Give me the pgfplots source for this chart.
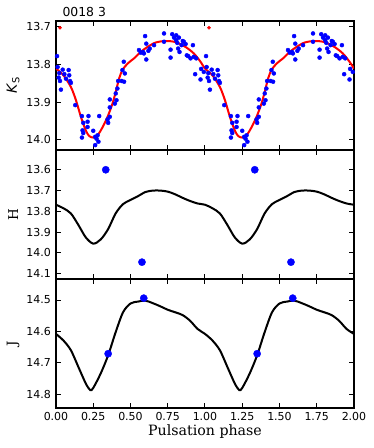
\documentclass[border=0pt]{standalone}
\usepackage{pgfplots}
\pgfplotsset{compat=1.18}
\usepackage{pgfplotstable}
\usepackage{fontspec}
\setmainfont{DejaVu Sans}
\newfontfamily\serif{DejaVu Serif}

% Ks photometry, folded phase, two cycles
\pgfplotstableread{
p m
0.007 13.778
0.011 13.807
0.022 13.823
0.018 13.835
0.027 13.844
0.033 13.867
0.045 13.814
0.056 13.826
0.067 13.838
0.085 13.815
0.089 13.829
0.094 13.844
0.100 13.849
0.129 13.908
0.174 13.937
0.178 13.975
0.183 13.982
0.174 13.994
0.183 13.955
0.212 13.952
0.218 13.937
0.212 13.966
0.250 13.976
0.263 13.992
0.272 13.997
0.279 13.988
0.263 14.014
0.285 14.005
0.290 13.937
0.346 13.946
0.350 13.955
0.361 13.939
0.361 13.914
0.361 13.893
0.395 13.904
0.401 13.877
0.406 13.895
0.412 13.864
0.417 13.844
0.441 13.844
0.446 13.815
0.457 13.846
0.455 13.793
0.462 13.824
0.557 13.762
0.569 13.769
0.584 13.767
0.590 13.771
0.598 13.725
0.606 13.745
0.606 13.787
0.620 13.764
0.629 13.758
0.658 13.749
0.725 13.718
0.725 13.740
0.769 13.761
0.769 13.782
0.780 13.720
0.792 13.729
0.807 13.723
0.807 13.736
0.814 13.743
0.820 13.758
0.825 13.729
0.829 13.767
0.843 13.749
0.851 13.738
0.858 13.740
0.870 13.746
0.878 13.776
0.887 13.778
0.903 13.784
0.919 13.749
0.925 13.780
0.934 13.826
0.941 13.784
0.970 13.840
0.974 13.812
0.992 13.820
1.007 13.778
1.011 13.807
1.022 13.823
1.018 13.835
1.027 13.844
1.033 13.867
1.045 13.814
1.056 13.826
1.067 13.838
1.085 13.815
1.089 13.829
1.094 13.844
1.100 13.849
1.129 13.908
1.174 13.937
1.178 13.975
1.183 13.982
1.174 13.994
1.183 13.955
1.212 13.952
1.218 13.937
1.212 13.966
1.250 13.976
1.263 13.992
1.272 13.997
1.279 13.988
1.263 14.014
1.285 14.005
1.290 13.937
1.346 13.946
1.350 13.955
1.361 13.939
1.361 13.914
1.361 13.893
1.395 13.904
1.401 13.877
1.406 13.895
1.412 13.864
1.417 13.844
1.441 13.844
1.446 13.815
1.457 13.846
1.455 13.793
1.462 13.824
1.557 13.762
1.569 13.769
1.584 13.767
1.590 13.771
1.598 13.725
1.606 13.745
1.606 13.787
1.620 13.764
1.629 13.758
1.658 13.749
1.725 13.718
1.725 13.740
1.769 13.761
1.769 13.782
1.780 13.720
1.792 13.729
1.807 13.723
1.807 13.736
1.814 13.743
1.820 13.758
1.825 13.729
1.829 13.767
1.843 13.749
1.851 13.738
1.858 13.740
1.870 13.746
1.878 13.776
1.887 13.778
1.903 13.784
1.919 13.749
1.925 13.780
1.934 13.826
1.941 13.784
1.970 13.840
1.974 13.812
1.992 13.820
}\ksdata

% Ks fit
\pgfplotstableread{
p m
0.000 13.811
0.050 13.829
0.100 13.860
0.134 13.895
0.167 13.939
0.200 13.975
0.223 13.990
0.250 13.994
0.279 13.988
0.312 13.967
0.346 13.939
0.379 13.904
0.401 13.873
0.424 13.837
0.446 13.815
0.480 13.798
0.524 13.784
0.569 13.767
0.613 13.754
0.669 13.742
0.736 13.738
0.803 13.741
0.870 13.754
0.925 13.771
0.970 13.793
1.000 13.811
1.050 13.829
1.100 13.860
1.134 13.895
1.167 13.939
1.200 13.975
1.223 13.990
1.250 13.994
1.279 13.988
1.312 13.967
1.346 13.939
1.379 13.904
1.401 13.873
1.424 13.837
1.446 13.815
1.480 13.798
1.524 13.784
1.569 13.767
1.613 13.754
1.669 13.742
1.736 13.738
1.803 13.741
1.870 13.754
1.925 13.771
1.970 13.793
2.000 13.811
}\ksfit

% H template
\pgfplotstableread{
p m
0.00 13.768
0.05 13.785
0.10 13.810
0.15 13.865
0.20 13.925
0.25 13.955
0.30 13.935
0.35 13.885
0.40 13.810
0.45 13.765
0.50 13.745
0.55 13.727
0.60 13.707
0.65 13.700
0.70 13.700
0.75 13.705
0.80 13.718
0.85 13.735
0.90 13.750
0.95 13.762
1.00 13.768
1.05 13.785
1.10 13.810
1.15 13.865
1.20 13.925
1.25 13.955
1.30 13.935
1.35 13.885
1.40 13.810
1.45 13.765
1.50 13.745
1.55 13.727
1.60 13.707
1.65 13.700
1.70 13.700
1.75 13.705
1.80 13.718
1.85 13.735
1.90 13.750
1.95 13.762
2.00 13.768
}\hfit

% J template
\pgfplotstableread{
p m
0.00 14.608
0.05 14.629
0.10 14.660
0.15 14.713
0.20 14.766
0.23 14.787
0.25 14.780
0.30 14.734
0.35 14.676
0.40 14.603
0.45 14.539
0.50 14.511
0.55 14.505
0.60 14.502
0.65 14.510
0.70 14.520
0.75 14.531
0.80 14.539
0.85 14.548
0.90 14.566
0.95 14.592
1.00 14.608
1.05 14.629
1.10 14.660
1.15 14.713
1.20 14.766
1.23 14.787
1.25 14.780
1.30 14.734
1.35 14.676
1.40 14.603
1.45 14.539
1.50 14.511
1.55 14.505
1.60 14.502
1.65 14.510
1.70 14.520
1.75 14.531
1.80 14.539
1.85 14.548
1.90 14.566
1.95 14.592
2.00 14.608
}\jfit

\pgfplotsset{
  panel/.style={
    scale only axis, width=298pt, height=129pt,
    xmin=0, xmax=2, y dir=reverse,
    xtick={0,0.25,0.5,0.75,1,1.25,1.5,1.75,2},
    tick align=inside, xtick pos=both, ytick pos=both,
    major tick length=5pt, minor tick num=0,
    every tick/.style={black, line width=1pt},
    axis line style={line width=1.1pt},
    /pgf/number format/assume math mode=true,
    tick label style={font=\fontsize{11}{13}\selectfont},
    yticklabel style={xshift=-1.5pt},
    xticklabel style={yshift=-1pt},
    ylabel style={at={(axis description cs:-0.144,0.5)}, anchor=center},
  },
}

\begin{document}
\begin{tikzpicture}
\useasboundingbox (-56pt,21pt) rectangle (318pt,-427pt);

\begin{axis}[panel, name=a1, at={(0,0)}, anchor=north west,
  ymin=13.685, ymax=14.027,
  ytick={13.7,13.8,13.9,14.0}, yticklabels={13.7,13.8,13.9,14.0},
  xticklabels={},
  ylabel={\fontsize{14}{16}\selectfont\textit{K}\textsubscript{S}}]
\addplot[only marks, mark=*, mark size=2pt, color=blue] table[x=p, y=m] {\ksdata};
\addplot[only marks, mark=*, mark size=1.6pt, color=red] coordinates {(0.027,13.703) (1.027,13.703)};
\addplot[red, line width=2pt, smooth, tension=0.5] table[x=p, y=m] {\ksfit};
\end{axis}
\node[anchor=base west, font=\fontsize{12.4}{14}\selectfont] at ([xshift=3pt, yshift=5pt]a1.north west) {0018 3};

\begin{axis}[panel, name=a2, at={(a1.south west)}, anchor=north west,
  ymin=13.505, ymax=14.125,
  ytick={13.6,13.7,13.8,13.9,14.0,14.1}, yticklabels={13.6,13.7,13.8,13.9,14.0,14.1},
  xticklabels={},
  ylabel={\serif\fontsize{13.5}{16}\selectfont H}]
\addplot[black, line width=2pt, smooth, tension=0.5] table[x=p, y=m] {\hfit};
\addplot[only marks, mark=*, mark size=3.6pt, color=blue] coordinates {(0.334,13.600) (0.577,14.044) (1.334,13.600) (1.577,14.044)};
\end{axis}

\begin{axis}[panel, name=a3, at={(a2.south west)}, anchor=north west,
  ymin=14.433, ymax=14.844,
  ytick={14.5,14.6,14.7,14.8}, yticklabels={14.5,14.6,14.7,14.8},
  xticklabels={0.00,0.25,0.50,0.75,1.00,1.25,1.50,1.75,2.00},
  ylabel={\serif\fontsize{13.5}{16}\selectfont J},
  xlabel={\serif\fontsize{14.2}{16}\selectfont Pulsation phase},
  xlabel style={at={(axis description cs:0.5,0)}, anchor=center, yshift=-24pt}]
\addplot[black, line width=2pt, smooth, tension=0.5] table[x=p, y=m] {\jfit};
\addplot[only marks, mark=*, mark size=3.6pt, color=blue] coordinates {(0.350,14.671) (0.589,14.494) (1.350,14.671) (1.589,14.494)};
\end{axis}
\end{tikzpicture}
\end{document}
